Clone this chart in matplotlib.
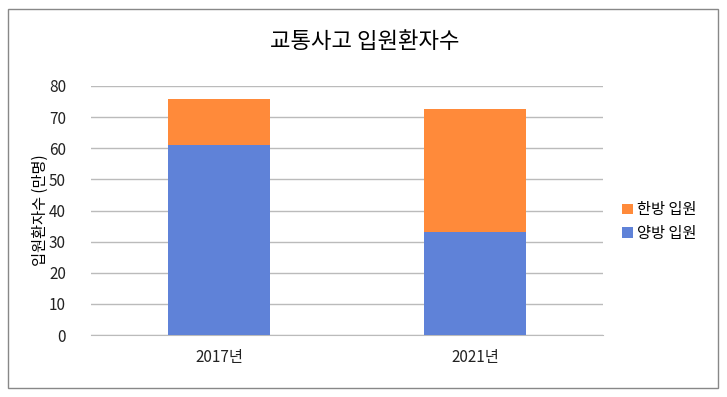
import matplotlib.pyplot as plt
from matplotlib.patches import Rectangle

plt.rcParams['font.family'] = ['Noto Sans CJK KR', 'DejaVu Sans']

years = ['2017년', '2021년']
western = [60.9, 33.1]   # 양방 입원
oriental = [14.8, 39.5]  # 한방 입원

fig = plt.figure(figsize=(7.27, 3.97), dpi=100)
ax = fig.add_axes([91 / 727, 62 / 397, 512 / 727, 249 / 397])

x = range(len(years))
b1 = ax.bar(x, western, width=0.4, color='#5F82D8', label='양방 입원', zorder=3)
b2 = ax.bar(x, oriental, width=0.4, bottom=western, color='#FF8A3A', label='한방 입원', zorder=3)

ax.set_xlim(-0.5, 1.5)
ax.set_ylim(0, 80)
ax.set_yticks(range(0, 81, 10))
ax.set_xticks(list(x))
ax.set_xticklabels(years)
ax.tick_params(length=0, labelsize=11, colors='#222222')
ax.tick_params(axis='y', pad=18)
ax.tick_params(axis='x', pad=10)
ax.grid(axis='y', color='#BBBBBB', linewidth=1, zorder=0)
for s in ['top', 'right', 'left']:
    ax.spines[s].set_visible(False)
ax.spines['bottom'].set_color('#BBBBBB')

ax.set_ylabel('입원환자수 (만명)', fontsize=11, labelpad=0)
fig.text(365 / 727, 1 - 42 / 397, '교통사고 입원환자수', ha='center', va='center', fontsize=16)

ax.legend(handles=[b2, b1], loc='center left', bbox_to_anchor=(1.01, 0.455),
          frameon=False, fontsize=11, handlelength=0.7, handleheight=0.7,
          handletextpad=0.3, labelspacing=0.45)

fig.patches.append(Rectangle((8 / 727, 9 / 397), 710 / 727, 379 / 397, transform=fig.transFigure,
                             fill=False, edgecolor='#888888', linewidth=1))

fig.savefig('out.png', dpi=100)
